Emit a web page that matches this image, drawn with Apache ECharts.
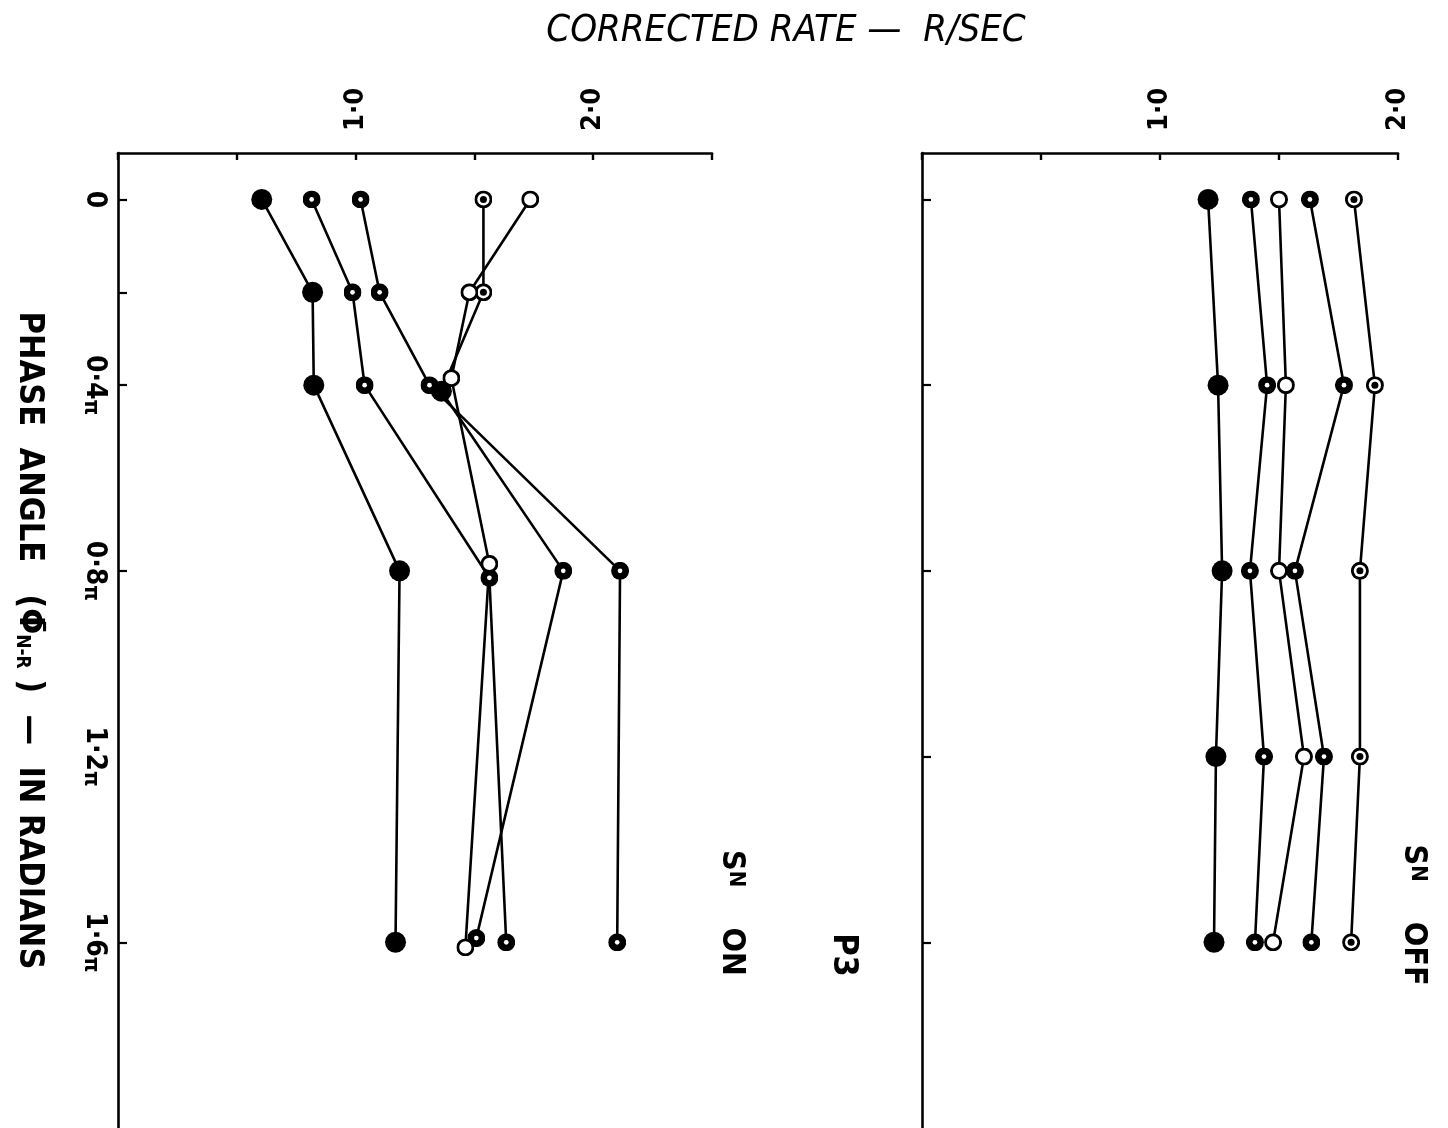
<!DOCTYPE html>
<html>
<head>
<meta charset="utf-8">
<script src="https://cdn.jsdelivr.net/npm/echarts@6/dist/echarts.min.js"></script>
<style>
  html, body { margin: 0; padding: 0; background: #ffffff; }
  #chart { width: 1448px; height: 1128px; }
</style>
</head>
<body>
<div id="chart"></div>
<script>
// ---- Phase angle (units of π) ----
const phaseOn = [0, 0.2, 0.4, 0.8, 1.6];
const phaseOff = [0, 0.4, 0.8, 1.2, 1.6];
// a few S^N-on points were plotted slightly off their nominal phase so they do not hide each other
const phaseOnOpen = [0, 0.2, 0.385, 0.785, 1.611];
const phaseOnDotA = [0, 0.2, 0.4, 0.815, 1.6];
const phaseOnTarget = [0, 0.2, 0.413, 0.8, 1.591];

// ---- P3, S^N on : corrected rate (R/sec) ----
const onFilled = [0.605, 0.819, 0.824, 1.185, 1.168];
const onDotA   = [0.815, 0.987, 1.038, 1.563, 1.634];
const onDotB   = [1.021, 1.101, 1.311, 2.113, 2.101];
const onTarget = [1.538, 1.538, 1.361, 1.874, 1.508];
const onOpen   = [1.735, 1.479, 1.403, 1.563, 1.462];

// ---- S^N off : corrected rate (R/sec) ----
const offFilled = [1.202, 1.244, 1.261, 1.235, 1.227];
const offDotA   = [1.382, 1.450, 1.378, 1.437, 1.399];
const offOpen   = [1.500, 1.529, 1.500, 1.605, 1.475];
const offDotB   = [1.630, 1.773, 1.567, 1.689, 1.636];
const offTarget = [1.815, 1.903, 1.840, 1.840, 1.803];

// ---- tick labels ----
const rateLabelValues = [1, 2];
const phaseLabelValues = [0, 0.4, 0.8, 1.2, 1.6];

// ---- marker glyphs ----
function svgSymbol(body) {
  return 'image://data:image/svg+xml;charset=utf-8,' + encodeURIComponent(
    '<svg xmlns="http://www.w3.org/2000/svg" width="60" height="60" viewBox="0 0 20 20">' + body + '</svg>');
}
const SYM = {
  filled: 'circle',
  dot: svgSymbol('<circle cx="10" cy="10" r="10" fill="#000"/><circle cx="10" cy="10" r="2.6" fill="#fff"/>'),
  target: svgSymbol('<circle cx="10" cy="10" r="10" fill="#000"/><circle cx="10" cy="10" r="6.8" fill="#fff"/><circle cx="10" cy="10" r="3.9" fill="#000"/>'),
  open: svgSymbol('<circle cx="10" cy="10" r="8.4" fill="#fff" stroke="#000" stroke-width="3.2"/>')
};
const SIZE = { filled: 21, dot: 18, target: 18, open: 18 };

const FONT = '"Liberation Sans Narrow", "DejaVu Sans Condensed", "Liberation Sans", sans-serif';

function curve(rates, phases, kinds, panel) {
  return {
    type: 'line',
    xAxisIndex: panel,
    yAxisIndex: panel,
    silent: true,
    animation: false,
    lineStyle: { color: '#000', width: 2.6 },
    itemStyle: { color: '#000' },
    data: rates.map((r, i) => {
      const k = Array.isArray(kinds) ? kinds[i] : kinds;
      return { value: [r, phases[i]], symbol: SYM[k], symbolSize: SIZE[k] };
    })
  };
}

const rateFmt = v => v.toFixed(1).replace('.', '\u00b7');
const phaseFmt = v => (Math.abs(v) < 1e-9 ? '0' : v.toFixed(1).replace('.', '\u00b7') + '{p|\u03c0}');

function rateAxis(grid, max, labels) {
  return {
    gridIndex: grid, type: 'value', position: 'top',
    min: 0, max: max, interval: 0.5,
    axisLine: { show: true, onZero: false, lineStyle: { color: '#000', width: 2.6 } },
    axisTick: { show: true, inside: true, length: 7, lineStyle: { color: '#000', width: 2.4 } },
    axisLabel: {
      show: labels, customValues: rateLabelValues, rotate: -90, margin: 22,
      formatter: rateFmt, color: '#000', fontSize: 27, fontWeight: 'bold', fontFamily: FONT
    },
    splitLine: { show: false }
  };
}

function phaseAxis(grid, ticks, labels) {
  const ax = {
    gridIndex: grid, type: 'value', inverse: true,
    min: -0.1, max: 2.0,
    axisLine: { show: true, onZero: false, lineStyle: { color: '#000', width: 2.6 } },
    axisTick: { show: true, inside: true, length: 9, customValues: ticks, lineStyle: { color: '#000', width: 2.2 } },
    axisLabel: {
      show: labels, customValues: phaseLabelValues, rotate: -90, margin: 10,
      formatter: phaseFmt, color: '#000', fontSize: 28, fontWeight: 'bold', fontFamily: FONT,
      rich: { p: { fontSize: 22, fontWeight: 'bold', fontFamily: FONT, color: '#000', verticalAlign: 'bottom' } }
    },
    splitLine: { show: false }
  };
  if (labels) {
    ax.name = 'PHASE  ANGLE   (\u03a6\u0304{s|N-R} )  \u2014  IN RADIANS';
    ax.nameLocation = 'middle';
    ax.nameRotate = -90;
    ax.nameGap = 72;
    ax.nameTextStyle = {
      color: '#000', fontSize: 34, fontWeight: 'bold', fontFamily: FONT,
      rich: { s: { fontSize: 19, fontWeight: 'bold', fontFamily: FONT, color: '#000', verticalAlign: 'bottom' } }
    };
  }
  return ax;
}

function vText(x, y, text, size, rich) {
  return {
    type: 'text', x: x, y: y, rotation: -Math.PI / 2, silent: true,
    style: {
      text: text, fill: '#000', fontSize: size, fontFamily: FONT, fontWeight: 'bold',
      align: 'center', verticalAlign: 'middle', textAlign: 'center', textVerticalAlign: 'middle',
      rich: rich
    }
  };
}
const snRich = {
  s: { fontSize: 32, fontFamily: FONT, fontWeight: 'bold', fill: '#000', color: '#000' },
  n: { fontSize: 22, fontFamily: FONT, fontWeight: 'bold', fill: '#000', color: '#000', verticalAlign: 'top' },
  t: { fontSize: 32, fontFamily: FONT, fontWeight: 'bold', fill: '#000', color: '#000' }
};

const chart = echarts.init(document.getElementById('chart'), null, { renderer: 'canvas' });
chart.setOption({
  backgroundColor: '#ffffff',
  animation: false,
  grid: [
    { left: 118, top: 153, width: 594, height: 981, containLabel: false },
    { left: 922, top: 153, width: 476, height: 981, containLabel: false }
  ],
  xAxis: [rateAxis(0, 2.5, true), rateAxis(1, 2.0, true)],
  yAxis: [phaseAxis(0, phaseOn, true), phaseAxis(1, phaseOff, false)],
  graphic: [
    {
      type: 'text', x: 786, y: 31, silent: true,
      style: {
        text: 'CORRECTED RATE \u2014  R/SEC', fill: '#000', fontSize: 38, fontStyle: 'italic',
        fontFamily: FONT, align: 'center', verticalAlign: 'middle', textAlign: 'center', textVerticalAlign: 'middle'
      }
    },
    vText(731, 913, '{s|S}{n|N}    {t|ON}', 32, snRich),
    vText(843, 955, 'P3', 34),
    vText(1413, 915, '{s|S}{n|N}    {t|OFF}', 32, snRich)
  ],
  series: [
    curve(onFilled, phaseOn, 'filled', 0),
    curve(onDotA, phaseOnDotA, 'dot', 0),
    curve(onDotB, phaseOn, 'dot', 0),
    curve(onTarget, phaseOnTarget, ['target', 'target', 'filled', 'dot', 'dot'], 0),
    curve(onOpen, phaseOnOpen, 'open', 0),
    curve(offFilled, phaseOff, 'filled', 1),
    curve(offDotA, phaseOff, 'dot', 1),
    curve(offOpen, phaseOff, 'open', 1),
    curve(offDotB, phaseOff, 'dot', 1),
    curve(offTarget, phaseOff, 'target', 1)
  ]
});
</script>
</body>
</html>
